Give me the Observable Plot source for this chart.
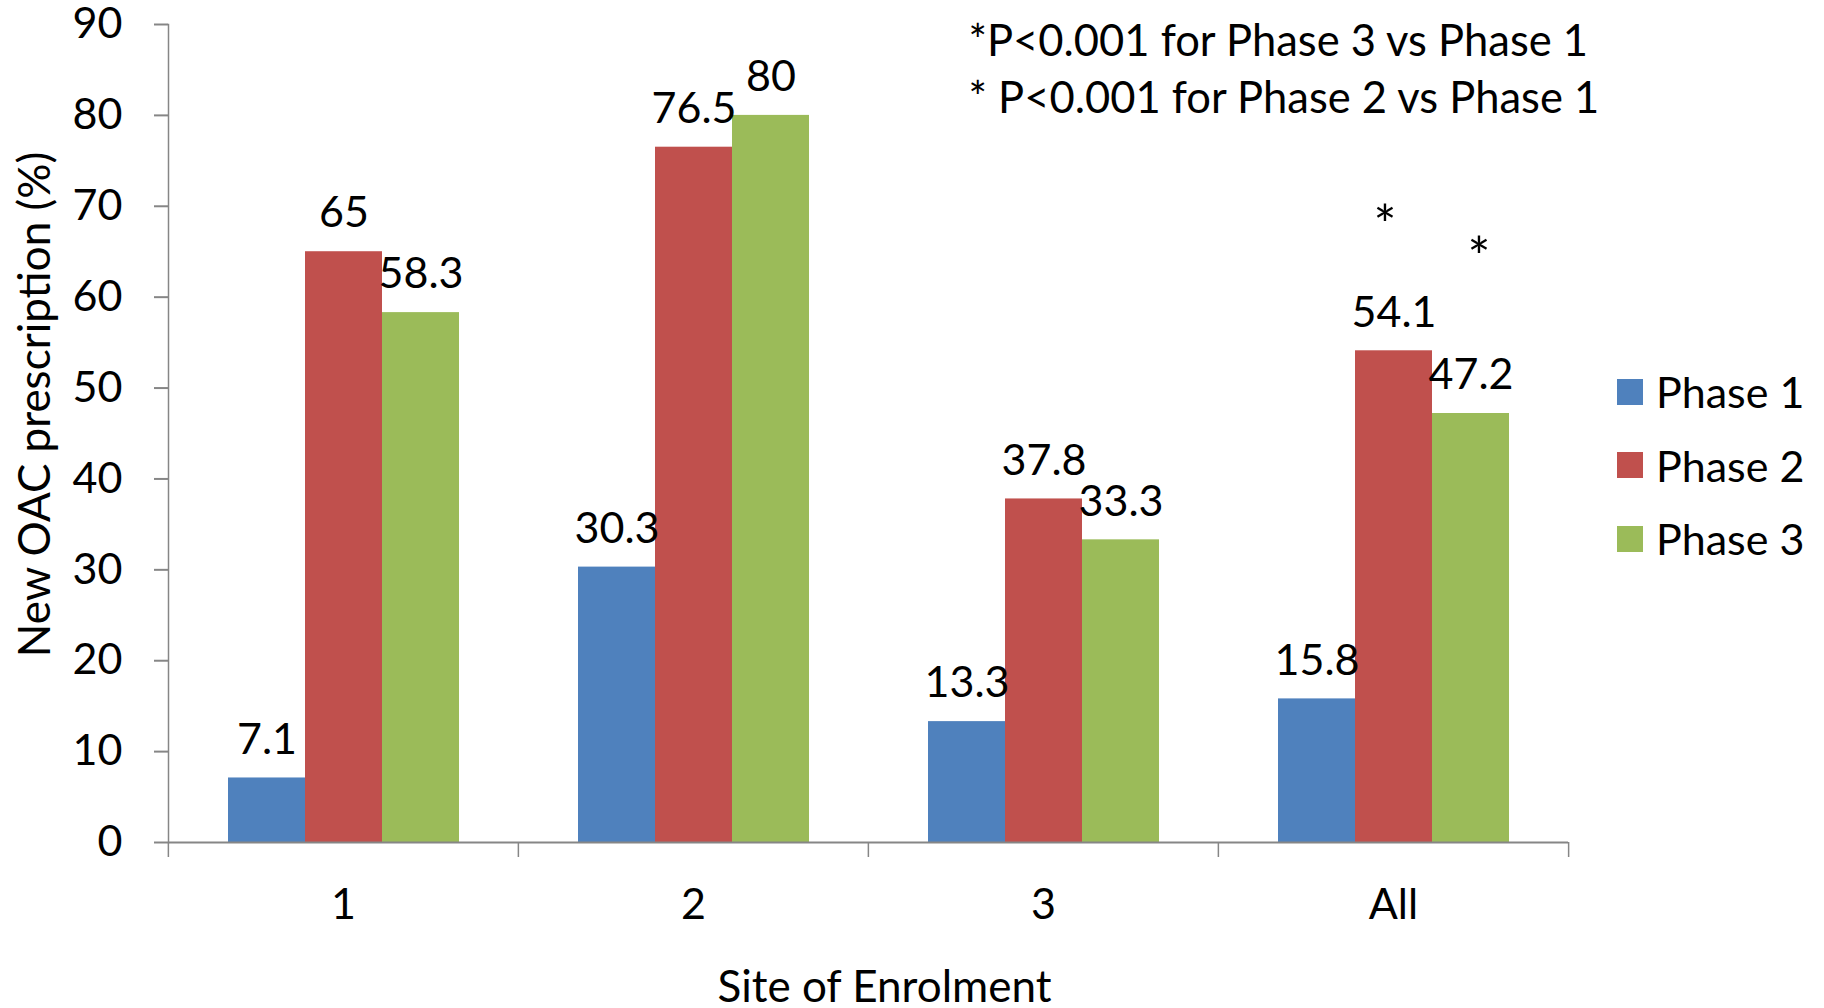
<!DOCTYPE html>
<html>
<head>
<meta charset="utf-8">
<script src="https://cdn.jsdelivr.net/npm/d3@7"></script>
<script src="https://cdn.jsdelivr.net/npm/@observablehq/plot@0.6"></script>
<style>
  html, body { margin: 0; padding: 0; background: #fff; }
  #wrap { position: relative; width: 1824px; height: 1008px; font-family: Lato, "Open Sans", sans-serif; }
  #legend { position: absolute; left: 1617px; top: 355px; font-size: 43px; color: #000; }
  .row { display: flex; align-items: center; height: 73.5px; }
  .sw { width: 26px; height: 26px; margin-right: 13px; }
</style>
</head>
<body>
<div id="wrap"><div id="chart"></div><div id="legend"></div></div>
<script>
// ---- data ----
const sites = ["1", "2", "3", "All"];
const phases = ["Phase 1", "Phase 2", "Phase 3"];
const phase1 = [7.1, 30.3, 13.3, 15.8];
const phase2 = [65, 76.5, 37.8, 54.1];
const phase3 = [58.3, 80, 33.3, 47.2];
const yTicks = [0, 10, 20, 30, 40, 50, 60, 70, 80, 90];
const notes = ["*P<0.001 for Phase 3 vs Phase 1", "* P<0.001 for Phase 2 vs Phase 1"];
const starSite = "All";
const colors = ["#4F81BD", "#C0504D", "#9BBB59"];
const yLabel = "New OAC prescription (%)";
const xLabel = "Site of Enrolment";

// ---- table ----
const series = [phase1, phase2, phase3];
const rows = [];
phases.forEach((p, i) => sites.forEach((s, j) => rows.push({site: s, phase: p, value: series[i][j]})));
const starP2 = rows.filter(d => d.site === starSite && d.phase === "Phase 2");
const starP3 = rows.filter(d => d.site === starSite && d.phase === "Phase 3");

// ---- layout ----
const W = 1824, H = 1008;
const mL = 167, mR = 256, mT = 24, mB = 166;
const half = (W - mL - mR) / sites.length / 2;
const axisColor = "#868686";
const fs = 43;

const chart = Plot.plot({
  width: W, height: H,
  marginLeft: mL, marginRight: mR, marginTop: mT, marginBottom: mB,
  style: {fontFamily: "Lato, 'Open Sans', sans-serif", fontSize: fs + "px", color: "#000", background: "#fff", overflow: "visible"},
  fx: {domain: sites, padding: 0, axis: null},
  x: {domain: phases, paddingInner: 0, paddingOuter: 0.754, axis: null},
  y: {domain: [0, 90], axis: null},
  color: {domain: phases, range: colors},
  marks: [
    Plot.barY(rows, {fx: "site", x: "phase", y: "value", fill: "phase"}),
    Plot.ruleY([0], {stroke: axisColor, strokeWidth: 2}),
    Plot.frame({anchor: "left", stroke: axisColor, strokeWidth: 1.5, facet: "super"}),
    Plot.axisY({ticks: yTicks, tickSize: 14, tickPadding: 32, stroke: axisColor, strokeWidth: 2, label: null, fontSize: fs}),
    Plot.axisFx({anchor: "bottom", tickSize: 15, dx: -half, stroke: axisColor, strokeWidth: 1.5, tickFormat: () => "", label: null}),
    Plot.axisFx({anchor: "bottom", ticks: [sites[sites.length - 1]], tickSize: 15, dx: half, stroke: axisColor, strokeWidth: 1.5, tickFormat: () => "", label: null}),
    Plot.axisFx({anchor: "bottom", tickSize: 0, tickPadding: 46, label: null, fontSize: fs}),
    Plot.text(rows, {fx: "site", x: "phase", y: "value", text: d => String(d.value), lineAnchor: "middle", dy: -38, fontSize: fs}),
    Plot.text(starP2, {fx: "site", x: "phase", y: "value", text: () => "*", dx: -9, dy: -124, fontSize: 54}),
    Plot.text(starP3, {fx: "site", x: "phase", y: "value", text: () => "*", dx: 8, dy: -155, fontSize: 54}),
    Plot.text([yLabel], {text: d => d, frameAnchor: "left", rotate: -90, dx: -133, dy: -29, textAnchor: "middle", lineAnchor: "middle", fontSize: 44, facet: "super"}),
    Plot.text([xLabel], {text: d => d, frameAnchor: "bottom", dx: 16, dy: 145, textAnchor: "middle", lineAnchor: "middle", fontSize: 44, facet: "super"}),
    Plot.text([notes.join("\n")], {text: d => d, frameAnchor: "top-left", dx: 800, dy: 42, textAnchor: "start", lineAnchor: "middle", lineHeight: 1.3, fontSize: 43.5, facet: "super"})
  ]
});
document.getElementById("chart").appendChild(chart);

// ---- legend ----
const legend = document.getElementById("legend");
phases.forEach((p, i) => {
  const row = document.createElement("div");
  row.className = "row";
  const sw = document.createElement("div");
  sw.className = "sw";
  sw.style.background = colors[i];
  const t = document.createElement("span");
  t.textContent = p;
  row.appendChild(sw); row.appendChild(t);
  legend.appendChild(row);
});
</script>
</body>
</html>
